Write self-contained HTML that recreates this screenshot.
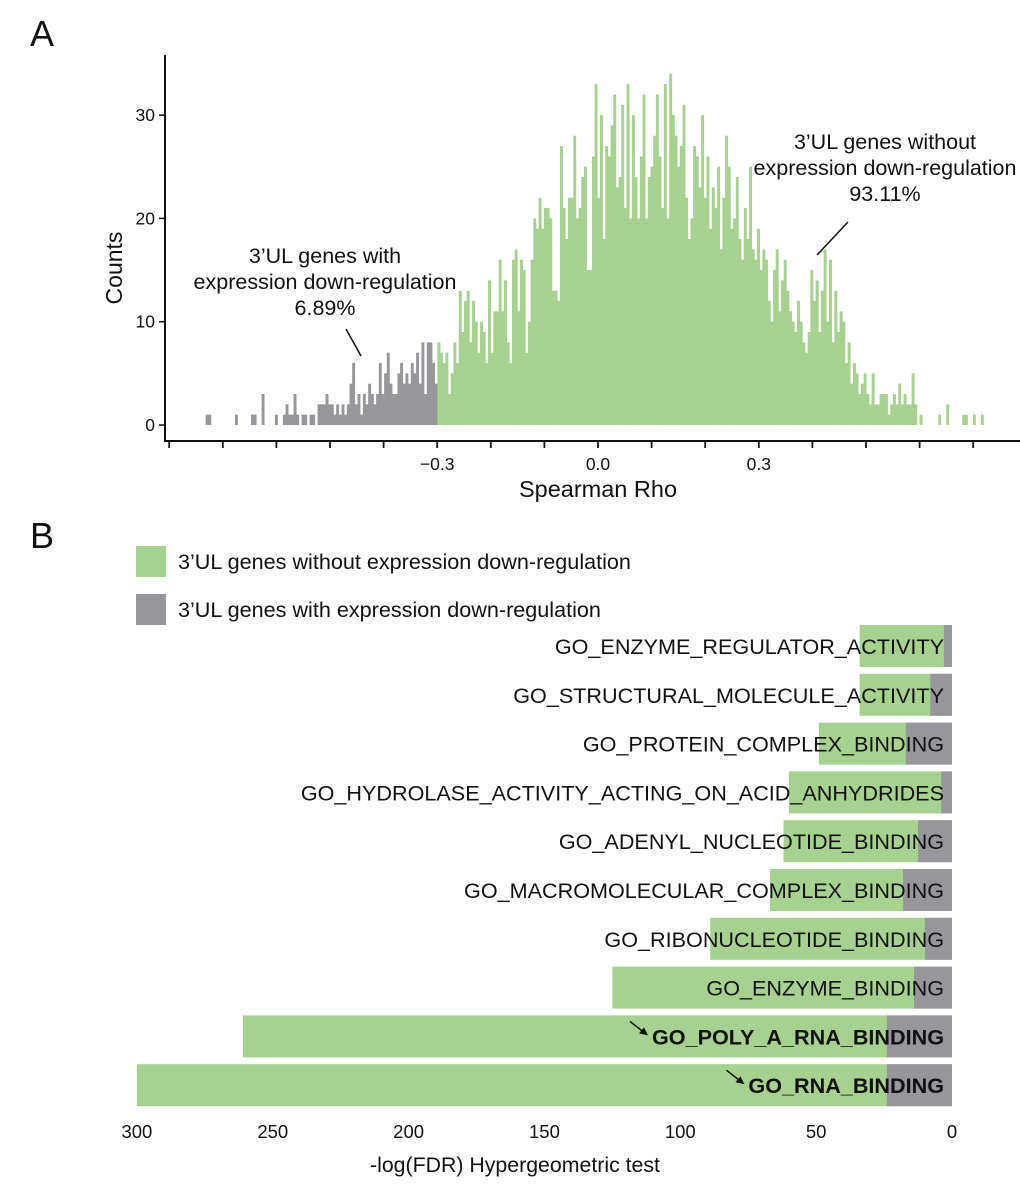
<!DOCTYPE html>
<html><head><meta charset="utf-8"><style>
body{margin:0;background:#fff}
svg text{font-family:"Liberation Sans",Arial,sans-serif;fill:#111}
</style></head><body>
<svg id="fig" width="1020" height="1183" viewBox="0 0 1020 1183" xmlns="http://www.w3.org/2000/svg">
<text x="30" y="46" font-size="36">A</text>
<text x="30" y="548" font-size="36">B</text>
<g id="histA"></g>
<g id="axesA"></g>
<text x="325" y="263" font-size="21.5" text-anchor="middle">3’UL genes with</text>
<text x="325" y="289" font-size="21.5" text-anchor="middle">expression down-regulation</text>
<text x="325" y="315" font-size="21.5" text-anchor="middle">6.89%</text>
<line x1="346" y1="329" x2="361" y2="356" stroke="#111" stroke-width="1.5"/>
<text x="885" y="149" font-size="21.5" text-anchor="middle">3’UL genes without</text>
<text x="885" y="175" font-size="21.5" text-anchor="middle">expression down-regulation</text>
<text x="885" y="201" font-size="21.5" text-anchor="middle">93.11%</text>
<line x1="848" y1="222" x2="817" y2="255" stroke="#111" stroke-width="1.5"/>
<text x="598" y="497" font-size="23.5" text-anchor="middle">Spearman Rho</text>
<text transform="translate(122,268) rotate(-90)" font-size="23" text-anchor="middle">Counts</text>

<rect x="136" y="546" width="30" height="31" fill="#a5d38f"/>
<text x="178" y="569" font-size="21.6">3’UL genes without expression down-regulation</text>
<rect x="136" y="594" width="30" height="31" fill="#97979b"/>
<text x="178" y="617" font-size="21.6">3’UL genes with expression down-regulation</text>
<g id="barsB"></g>
<text x="515" y="1172" font-size="21.3" text-anchor="middle">-log(FDR) Hypergeometric test</text>
</svg>
<script>
// ---------- Panel A data ----------
const binStart = -0.732;
const binWidth = 0.00497;
const grayCounts = [1,1,0,0,0,0,0,0,0,0,0,1,0,0,0,0,0,1,1,0,0,3,0,0,0,0,1,0,0,1,2,1,1,3,1,0,1,1,0,1,1,0,2,2,2,3,2,2,1,2,1,2,1,2,4,6,2,3,1,3,2,4,3,2,3,6,3,5,7,4,3,3,5,6,4,5,4,6,5,7,4,8,3,8,8,6,4];
const greenCounts = [8,7,6,7,3,5,8,6,13,9, 12,13,8,12,10,7,10,9,6,14, 7,11,11,16,11,14,8,6,16,17, 11,16,15,7,10,16,20,19,22,19,
 21,21,20,13,13,12,27,21,18,22, 22,28,20,21,24,25,15,15,26,33, 22,30,18,27,26,29,32,23,24,31, 21,33,20,30,24,20,26,32,20,24,
 25,28,32,26,21,33,20,34,30,28, 25,27,31,22,18,20,27,26,23,30, 22,26,19,23,21,25,17,22,28,25, 19,20,24,18,16,21,18,25,17,16,
 19,15,17,16,12,10,15,17,11,14, 16,13,11,10,9,12,10,8,7,9, 15,12,14,9,13,17,10,16,8,13, 9,11,10,6,8,4,6,5,3,4,
 5,3,2,5,2,2,3,3,3,1, 2,3,2,4,2,3,2,2,5,2, 0,1,0,0,0,0,0,0,1,0, 0,2,0,0,0,0,0,1,1,0, 0,1,0,0,1];
const yTicks = [0,10,20,30];
const xMinorTicks = [-0.8,-0.7,-0.6,-0.5,-0.4,-0.3,-0.2,-0.1,0.0,0.1,0.2,0.3,0.4,0.5,0.6,0.7];
const xTickLabels = ["−0.3","0.0","0.3"];
const xTickLabelVals = [-0.3,0.0,0.3];

// ---------- Panel B data ----------
const goTerms = ["GO_ENZYME_REGULATOR_ACTIVITY","GO_STRUCTURAL_MOLECULE_ACTIVITY","GO_PROTEIN_COMPLEX_BINDING","GO_HYDROLASE_ACTIVITY_ACTING_ON_ACID_ANHYDRIDES","GO_ADENYL_NUCLEOTIDE_BINDING","GO_MACROMOLECULAR_COMPLEX_BINDING","GO_RIBONUCLEOTIDE_BINDING","GO_ENZYME_BINDING","GO_POLY_A_RNA_BINDING","GO_RNA_BINDING"];
const withoutVals = [34,34,49,60,62,67,89,125,261,300];
const withVals = [3,8,17,4,12.5,18,10,14,24,24];
const boldTerms = [false,false,false,false,false,false,false,false,true,true];
const bTicks = [300,250,200,150,100,50,0];

const NS="http://www.w3.org/2000/svg";
function mk(tag,attrs,parent){const e=document.createElementNS(NS,tag);for(const k in attrs)e.setAttribute(k,attrs[k]);parent.appendChild(e);return e;}
const xA = v => 598 + v*536;
const yA = c => 425 - c*10.33;
const hist = document.getElementById('histA');
const allCounts = grayCounts.concat(greenCounts);
allCounts.forEach((c,i)=>{
  if(c<=0) return;
  const x0 = xA(binStart + i*binWidth), x1 = xA(binStart + (i+1)*binWidth);
  const r = mk('rect',{x:x0,y:yA(c),width:x1-x0+0.3,height:yA(0)-yA(c),fill: i<grayCounts.length?'#97979b':'#a5d38f'},hist);
  
  
});
const ax = document.getElementById('axesA');
let l = mk('line',{x1:165,y1:55,x2:165,y2:442,stroke:'#111','stroke-width':2},ax);


l = mk('line',{x1:164,y1:441,x2:1020,y2:441,stroke:'#111','stroke-width':2},ax);


yTicks.forEach(t=>{
  const tk = mk('line',{x1:159,y1:yA(t),x2:165,y2:yA(t),stroke:'#111','stroke-width':1.5},ax);
  
  
  const tx = mk('text',{x:155,y:yA(t)+6,'font-size':17.5,'text-anchor':'end'},ax);
  tx.textContent = t;
  
  
});
xMinorTicks.forEach(t=>{
  const tk = mk('line',{x1:xA(t),y1:441,x2:xA(t),y2:448,stroke:'#111','stroke-width':1.8},ax);
  
  
});
xTickLabels.forEach((s,i)=>{
  const tx = mk('text',{x:xA(xTickLabelVals[i]),y:470,'font-size':17.5,'text-anchor':'middle'},ax);
  tx.textContent = s;
  
  
});

// Panel B
const xB = v => 952 - v*2.717;
const rowY = i => 625 + i*48.8;
const gb = document.getElementById('barsB');
goTerms.forEach((t,i)=>{
  const y = rowY(i);
  const g1 = mk('rect',{x:xB(withoutVals[i]),y:y,width:952-xB(withoutVals[i]),height:42,fill:'#a5d38f'},gb);
  
  
  const g2 = mk('rect',{x:xB(withVals[i]),y:y,width:952-xB(withVals[i]),height:42,fill:'#97979b'},gb);
  
  
  const tx = mk('text',{x:944,y:y+29,'font-size':21.6,'text-anchor':'end','font-weight':boldTerms[i]?'bold':'normal'},gb);
  tx.textContent = t;
  
  
  if(boldTerms[i]){
    const w = tx.getComputedTextLength();
    const ex = 944 - w - 4;
    const ar = mk('line',{x1:ex-18,y1:y+6,x2:ex-4,y2:y+17,stroke:'#111','stroke-width':1.5},gb);
    
    
    const hd = mk('polygon',{points:`${ex},${y+20} ${ex-9},${y+18} ${ex-4},${y+12}`,fill:'#111'},gb);
    
    
  }
});
bTicks.forEach(t=>{
  const tx = mk('text',{x:xB(t),y:1138,'font-size':18.5,'text-anchor':'middle'},gb);
  tx.textContent = t;
  
  
});
</script>
</body></html>
